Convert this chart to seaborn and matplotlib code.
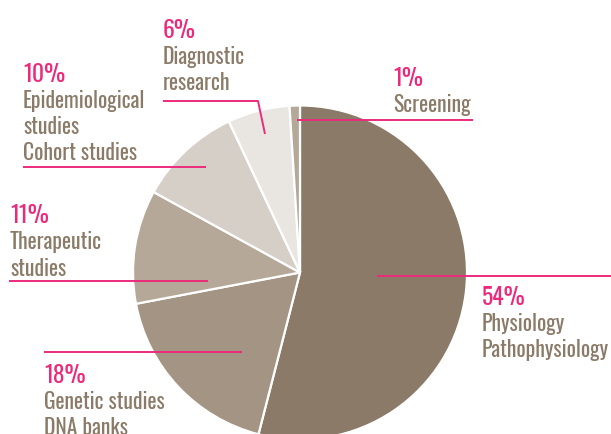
import matplotlib
matplotlib.use("Agg")
import matplotlib.pyplot as plt
import seaborn as sns

# Shares of research by category (percent), clockwise from the top
categories = ["Physiology\nPathophysiology", "Genetic studies\nDNA banks",
              "Therapeutic\nstudies", "Epidemiological\nstudies\nCohort studies",
              "Diagnostic\nresearch", "Screening"]
shares = [54, 18, 11, 10, 6, 1]
pct_labels = [f"{v}%" for v in shares]

slice_colors = ["#8a7a67", "#a39483", "#b5a898", "#d6cfc8", "#e9e6e1", "#b5a898"]
PINK = "#ec2a7b"
TEXT = "#8a7a67"

sns.set_theme(style="white")
plt.rcParams["font.family"] = ["Oswald", "Barlow Condensed", "DejaVu Sans"]

W, H = 611, 435
fig = plt.figure(figsize=(W / 100, H / 100), dpi=100)
ax = fig.add_axes([0, 0, 1, 1])


def py(y):
    """Convert a top-down pixel row to data y."""
    return H - y


ax.pie(shares, colors=slice_colors, startangle=90, counterclock=False,
       center=(300, py(273.5)), radius=167, frame=True,
       wedgeprops=dict(edgecolor="white", linewidth=1.6))
ax.set_xlim(0, W)
ax.set_ylim(0, H)
ax.set_aspect("equal")
ax.axis("off")

# Label layout: (text x, baseline of the percent line, leader polyline)
layout = [
    (482, 305, [(377, 277), (611, 277)]),
    (44, 383, [(44, 353), (242, 353)]),
    (10, 223, [(9, 282), (208, 282)]),
    (23, 82, [(23, 168), (206, 168)]),
    (163, 38, [(163, 102), (258, 102), (265, 135)]),
    (393, 86, [(297, 121), (473, 121)]),
]

line_step = 26
for cat, pct, (tx, base, pts) in zip(categories, pct_labels, layout):
    xs = [p[0] for p in pts]
    ys = [py(p[1]) for p in pts]
    ax.plot(xs, ys, color=PINK, linewidth=1.4, solid_capstyle="butt")
    ax.text(tx, py(base), pct, color=PINK, fontsize=17, va="baseline",
            ha="left", fontweight="normal")
    for i, line in enumerate(cat.split("\n")):
        ax.text(tx, py(base + line_step * (i + 1) + 0.5), line, color=TEXT,
                fontsize=15.6, va="baseline", ha="left", fontweight="light")

fig.savefig("out.png", dpi=100)
